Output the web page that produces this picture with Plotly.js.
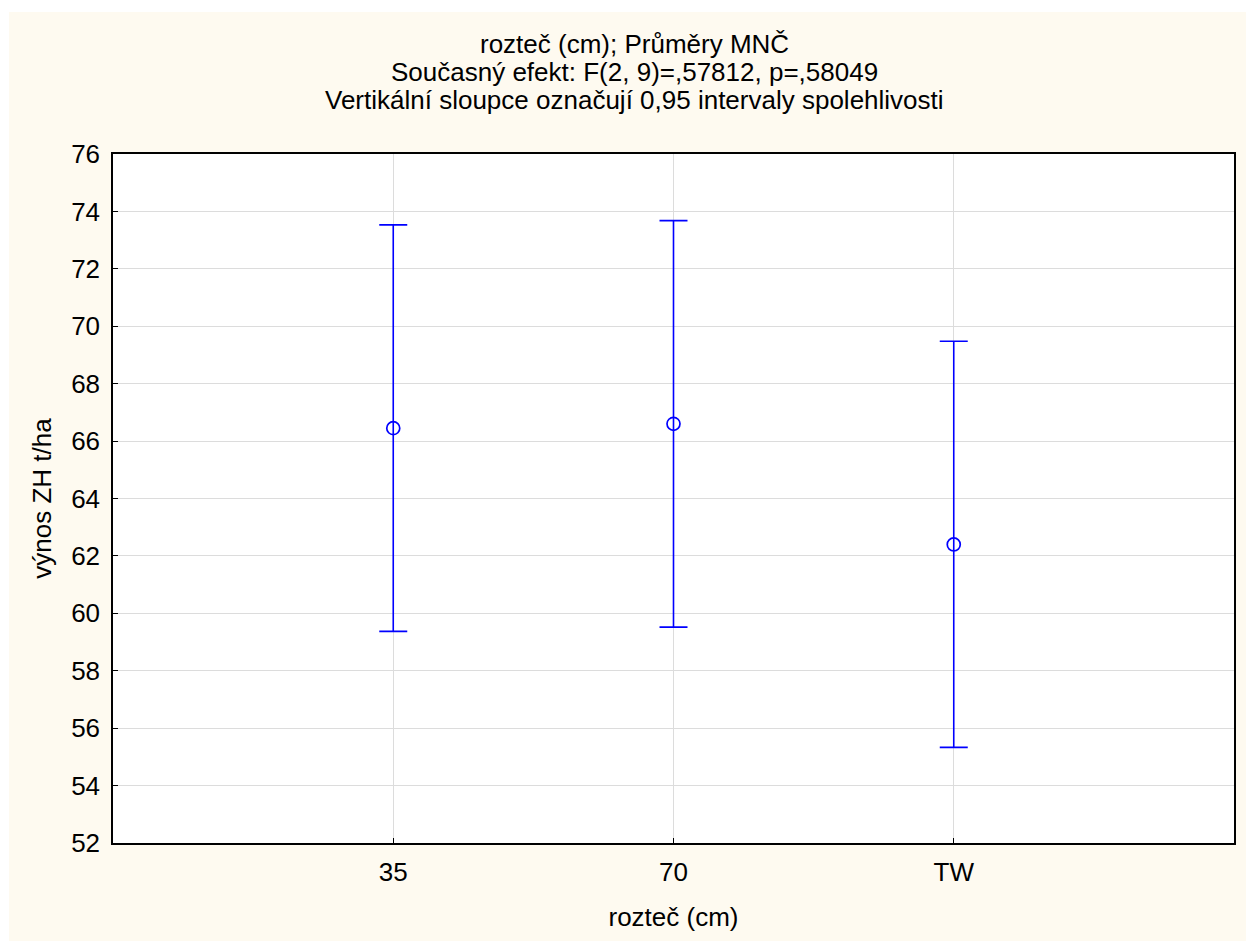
<!DOCTYPE html>
<html>
<head>
<meta charset="utf-8">
<script src="https://cdn.plot.ly/plotly-3.0.1.min.js"></script>
<style>
  html, body { margin: 0; padding: 0; background: #ffffff; }
  #chart { position: absolute; left: 9px; top: 12px; width: 1237px; height: 929px; }
</style>
</head>
<body>
<div id="chart"></div>
<script>
const categories = ["35", "70", "TW"];
const means = [66.45, 66.60, 62.40];
const upper = [73.53, 73.68, 69.48];
const lower = [59.37, 59.52, 55.33];
const titleLines = [
  "rozteč (cm); Průměry MNČ",
  "Současný efekt: F(2, 9)=,57812, p=,58049",
  "Vertikální sloupce označují 0,95 intervaly spolehlivosti"
];

const errPlus = means.map((m, i) => upper[i] - m);
const errMinus = means.map((m, i) => m - lower[i]);

const blue = "#0000ff";
const trace = {
  type: "scatter",
  mode: "markers",
  x: [0, 1, 2],
  y: means,
  marker: { symbol: "circle-open", size: 13, color: blue, line: { width: 1.7, color: blue } },
  error_y: {
    type: "data", symmetric: false, array: errPlus, arrayminus: errMinus,
    color: blue, thickness: 1.6, width: 14
  },
  hoverinfo: "y"
};

const fam = "Liberation Sans, Arial, sans-serif";
const font = { family: fam, size: 26, color: "#000000" };

const titleY = [1.1597, 1.1190, 1.0784];
const annotations = titleLines.map((t, i) => ({
  text: t, xref: "paper", yref: "paper", x: 0.465, y: titleY[i],
  xanchor: "center", yanchor: "middle", showarrow: false,
  font: { family: fam, size: 26, color: "#000" }
}));

const layout = {
  width: 1237, height: 929,
  paper_bgcolor: "#fefaf0",
  plot_bgcolor: "#ffffff",
  font: font,
  showlegend: false,
  margin: { l: 104, r: 12, t: 142, b: 98 },
  annotations: annotations,
  xaxis: {
    range: [-1, 3],
    tickmode: "array", tickvals: [0, 1, 2], ticktext: categories,
    ticks: "inside", ticklen: 5, tickcolor: "#000", tickwidth: 1,
    showgrid: true, gridcolor: "#dcdcdc", gridwidth: 1,
    showline: true, linecolor: "#000", linewidth: 1.5, mirror: true,
    zeroline: false,
    tickfont: { family: fam, size: 26 },
    ticklabelstandoff: 5,
    title: { text: "rozteč (cm)", font: font, standoff: 22 }
  },
  yaxis: {
    range: [52, 76], dtick: 2, tick0: 52,
    ticks: "inside", ticklen: 5, tickcolor: "#000", tickwidth: 1,
    showgrid: true, gridcolor: "#dcdcdc", gridwidth: 1,
    showline: true, linecolor: "#000", linewidth: 1.5, mirror: true,
    zeroline: false,
    tickfont: { family: fam, size: 26 },
    ticklabelstandoff: 6,
    title: { text: "výnos ZH t/ha", font: font, standoff: 12 }
  }
};

Plotly.newPlot("chart", [trace], layout, { displayModeBar: false });
</script>
</body>
</html>
